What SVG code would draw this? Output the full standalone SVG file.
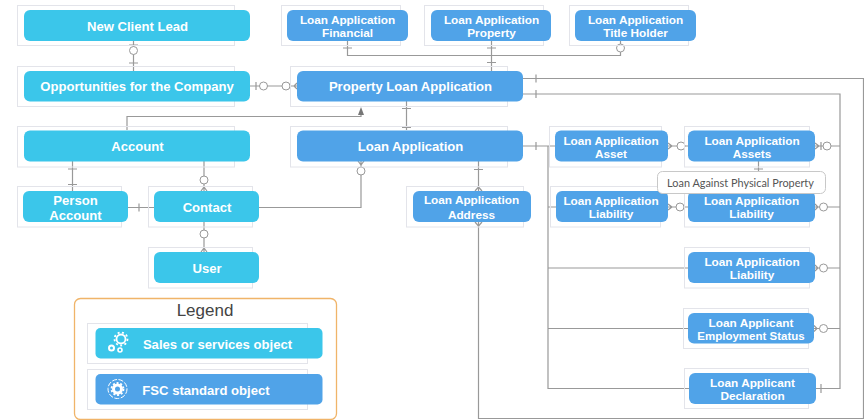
<svg xmlns="http://www.w3.org/2000/svg" width="864" height="420" viewBox="0 0 864 420">
<style>
text{font-family:"Liberation Sans",Arial,sans-serif;font-weight:700;fill:#fff;text-anchor:middle}
.g{fill:none;stroke:#e3e4ea;stroke-width:1}
.c{fill:#3bc6ea}.b{fill:#50a3e8}
.l{font-size:13.100px}.s{font-size:11.800px}
#connectors path{fill:none;stroke:#999;stroke-width:1.200}
#connectors path.a{fill:#777;stroke:none}
#connectors circle{fill:#fff;stroke:#999;stroke-width:1}
.i{fill:none;stroke:#fff}
</style>
<rect width="864" height="420" fill="#fff"/>
<g id="connectors">
<path d="M133.500 41V71M129 45H138M129 63H138"/><circle cx="133.500" cy="50.500" r="4"/>
<path d="M250 86H297M256 82V90M294 86L297 83M294 86L297 89"/><circle cx="263.500" cy="86" r="4"/><circle cx="286" cy="86" r="4"/>
<path d="M127 130V116.500H361V113"/><path class="a" d="M361 107L364 115H358Z"/>
<path d="M406.500 101V130M402 108.500H411M402 127.500H411"/>
<path d="M347.500 41V55.500H620.500V41M343 48H352M487 48H496M487 62.500H496M491.500 41V71"/><circle cx="620.500" cy="48" r="4"/>
<path d="M523 78.500H863.500V418.500H478.500V222M536 74.500V82.500"/>
<path d="M523 94H840V388.500H816M536 90V98M821 384V393"/>
<path d="M523 146H555M536 142V150M548 146V388.500H689M548 207H556M548 268H688M548 328.500H688"/>
<path d="M668 146H688M668 143L672 146L668 149"/><circle cx="681" cy="146" r="4"/>
<path d="M668 207H688M668 204L672 207L668 210"/><circle cx="680" cy="207" r="4"/>
<path d="M815 146H840M815 143L819 146L815 149M821 142V150"/><circle cx="827" cy="146" r="4"/>
<path d="M815 207H840M815 204L818 207L815 210"/><circle cx="823.500" cy="207" r="4"/>
<path d="M815 268H840M815 265L818 268L815 271"/><circle cx="823.500" cy="268" r="4"/>
<path d="M814 328.500H840M814 325.500L817 328.500L814 331.500"/><circle cx="823.500" cy="328.500" r="4"/>
<path d="M758.500 161V172M754 169H763"/>
<path d="M259 207.500H361V161M358 161L361 165L364 161"/><circle cx="361" cy="171" r="4"/>
<path d="M478.500 161V191M474 169.500H483M475 191L478.500 187L482 191M475 222L478.500 226L482 222"/>
<path d="M72.500 161V191M68 169H77M68 184.500H77"/>
<path d="M204 161V191M201 191L204 187L207 191"/><circle cx="204" cy="180" r="4"/>
<path d="M128 207.500H154M139 203.500V211.500"/>
<path d="M204 222V252M201 252L204 248L207 252"/><circle cx="204" cy="234" r="4"/>
</g>
<g id="legend">
<rect x="74.500" y="298.500" width="262" height="121" rx="6" fill="none" stroke="#f0b469" stroke-width="1.300"/>
<text x="205" y="316" style="font-weight:400;font-size:17px;fill:#444">Legend</text>
<rect class="g" x="87.500" y="323.500" width="220" height="40"/><rect class="c" x="95.500" y="328" width="227" height="30.500" rx="5"/>
<g class="i"><circle cx="121" cy="339" r="4.500" stroke-width="1.800"/><circle cx="121" cy="339" r="6.500" stroke-width="1.800" stroke-dasharray="2 2.400"/><circle cx="111.500" cy="348" r="2.500" stroke-width="2"/><circle cx="120" cy="350" r="2" stroke-width="1.600"/></g>
<text x="217.500" y="349" style="font-size:13.100px">Sales or services object</text>
<rect class="g" x="87.500" y="369.500" width="220" height="40"/><rect class="b" x="95.500" y="374" width="227" height="30.500" rx="5"/>
<g class="i"><circle cx="117.500" cy="389" r="9.500" stroke-width="1" stroke-dasharray="5 1.500"/><circle cx="117.500" cy="389" r="4" stroke-width="3"/><circle cx="117.500" cy="389" r="6" stroke-width="1.800" stroke-dasharray="2 1.800"/></g>
<text x="206" y="394.500" style="font-size:13.100px">FSC standard object</text>
</g>
<g id="n-lead"><rect class="g" x="17.500" y="5.500" width="217" height="40"/><rect class="c" x="24" y="10" width="226" height="31" rx="6"/><text class="l" x="137.500" y="31">New Client Lead</text></g>
<g id="n-opp"><rect class="g" x="17.500" y="66.500" width="217" height="40"/><rect class="c" x="24" y="71" width="226" height="30.500" rx="6"/><text class="l" x="137" y="91">Opportunities for the Company</text></g>
<g id="n-account"><rect class="g" x="17.500" y="126.500" width="217" height="40.500"/><rect class="c" x="24" y="130.500" width="226" height="31" rx="6"/><text class="l" x="137.500" y="151">Account</text></g>
<g id="n-person"><rect class="g" x="17.500" y="186.500" width="104" height="40.500"/><rect class="c" x="23" y="191" width="105" height="31" rx="6"/><text class="l" x="75.500" y="205">Person</text><text class="l" x="75.500" y="220">Account</text></g>
<g id="n-contact"><rect class="g" x="148.500" y="186.500" width="104" height="40.500"/><rect class="c" x="154" y="191" width="105" height="31" rx="6"/><text class="l" x="207" y="212">Contact</text></g>
<g id="n-user"><rect class="g" x="148.500" y="247.500" width="104" height="40.500"/><rect class="c" x="154" y="252" width="105" height="31" rx="6"/><text class="l" x="207" y="272.500">User</text></g>
<g id="n-financial"><rect class="g" x="281.500" y="5.500" width="119" height="40"/><rect class="b" x="287" y="10" width="121" height="31" rx="6"/><text class="s" x="347.500" y="24">Loan Application</text><text class="s" x="347.500" y="37">Financial</text></g>
<g id="n-property"><rect class="g" x="424.500" y="5.500" width="119" height="40"/><rect class="b" x="431" y="10" width="120" height="31" rx="6"/><text class="s" x="491.500" y="24">Loan Application</text><text class="s" x="491.500" y="37">Property</text></g>
<g id="n-title"><rect class="g" x="569.500" y="5.500" width="119" height="40"/><rect class="b" x="575" y="10" width="121" height="31" rx="6"/><text class="s" x="635.500" y="24">Loan Application</text><text class="s" x="635.500" y="37">Title Holder</text></g>
<g id="n-pla"><rect class="g" x="290.500" y="66.500" width="217" height="40"/><rect class="b" x="297" y="71" width="226" height="30.500" rx="6"/><text class="l" x="410.500" y="91">Property Loan Application</text></g>
<g id="n-la"><rect class="g" x="290.500" y="126.500" width="217" height="40.500"/><rect class="b" x="297" y="130.500" width="226" height="31" rx="6"/><text class="l" x="410.500" y="151">Loan Application</text></g>
<g id="n-address"><rect class="g" x="406.500" y="186.500" width="117" height="40.500"/><rect class="b" x="413" y="191" width="118" height="31" rx="6"/><text class="s" x="471.500" y="204">Loan Application</text><text class="s" x="471.500" y="218.500">Address</text></g>
<g id="n-asset"><rect class="g" x="549.500" y="126.500" width="112" height="40.500"/><rect class="b" x="555" y="130.500" width="113" height="31" rx="6"/><text class="s" x="611" y="144.500">Loan Application</text><text class="s" x="611" y="157.500">Asset</text></g>
<g id="n-assets"><rect class="g" x="684.500" y="126.500" width="125" height="40.500"/><rect class="b" x="688" y="130.500" width="127" height="31" rx="6"/><text class="s" x="752" y="144.500">Loan Application</text><text class="s" x="752" y="157.500">Assets</text></g>
<g id="n-liab1"><rect class="g" x="550.500" y="186.500" width="110" height="40.500"/><rect class="b" x="556" y="191" width="112" height="31" rx="6"/><text class="s" x="611" y="205">Loan Application</text><text class="s" x="611" y="218">Liability</text></g>
<g id="n-liab2"><rect class="g" x="684.500" y="186.500" width="125" height="40.500"/><rect class="b" x="688" y="191" width="127" height="31" rx="6"/><text class="s" x="751.500" y="205">Loan Application</text><text class="s" x="751.500" y="218">Liability</text></g>
<g id="n-liab3"><rect class="g" x="684.500" y="247.500" width="125" height="40.500"/><rect class="b" x="688" y="252" width="127" height="31" rx="6"/><text class="s" x="752" y="266">Loan Application</text><text class="s" x="752" y="279">Liability</text></g>
<g id="n-employment"><rect class="g" x="683.500" y="308.500" width="125" height="40"/><rect class="b" x="688" y="313" width="126" height="30.500" rx="6"/><text class="s" x="751" y="326.500">Loan Applicant</text><text class="s" x="751" y="339.500" style="font-size:11.500px">Employment Status</text></g>
<g id="n-declaration"><rect class="g" x="684.500" y="368.500" width="124" height="40"/><rect class="b" x="689" y="373" width="127" height="31" rx="6"/><text class="s" x="752.500" y="387">Loan Applicant</text><text class="s" x="752.500" y="400">Declaration</text></g>
<g id="n-label"><rect x="657.500" y="171.500" width="168" height="22" rx="5" fill="#fff" stroke="#c8c8c8"/><text x="740.500" y="186.500" style="font-family:Lato,'Liberation Sans',sans-serif;font-weight:400;font-size:10.900px;fill:#555">Loan Against Physical Property</text></g>
</svg>
